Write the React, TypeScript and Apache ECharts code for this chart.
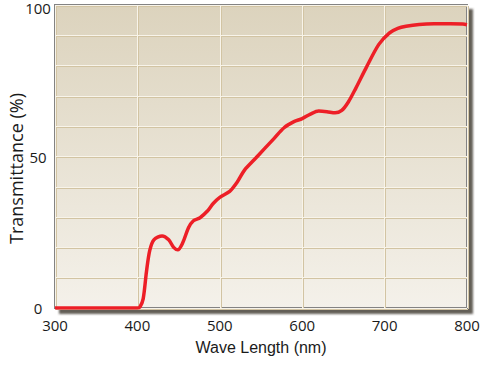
import React, { useEffect, useRef } from "react";
import * as echarts from "echarts";

const wavelengths = [300, 350, 400, 403, 407, 411, 415, 420, 430, 438, 444, 449, 455, 462, 468, 476, 485, 492, 500, 512, 521, 530, 542, 554, 566, 578, 590, 600, 610, 620, 630, 640, 648, 656, 665, 678, 693, 706, 716, 726, 742, 760, 780, 795, 800];
const transmittance = [0, 0, 0, 0.3, 3, 12, 19, 22.5, 23.8, 22.5, 20, 19.2, 21.5, 26.5, 28.8, 29.8, 32, 34.5, 36.5, 38.5, 41.5, 45.5, 49, 52.5, 56, 59.5, 61.5, 62.5, 64, 65, 64.8, 64.4, 65.2, 68, 72.5, 79.5, 87, 90.8, 92.3, 93, 93.6, 93.8, 93.8, 93.7, 93.5];
const yLabelValues = [0, 50, 100];

export default function App() {
  const ref = useRef<HTMLDivElement>(null);
  useEffect(() => {
    if (!ref.current) return;
    const chart = echarts.init(ref.current, null, { renderer: "svg" });
    const data = wavelengths.map((w, i) => [w, transmittance[i]]);
    const hiddenAxisBase = {
      axisLine: { show: false },
      axisTick: { show: false },
      axisLabel: { show: false },
    };
    chart.setOption({
      animation: false,
      grid: [
        {
          show: true,
          outerBoundsMode: "none",
          containLabel: false,
          left: 55,
          top: 5,
          width: 412,
          height: 303,
          borderColor: "#838383",
          borderWidth: 2,
          shadowColor: "rgba(70,66,58,0.85)",
          shadowOffsetX: 5,
          shadowOffsetY: 5,
          shadowBlur: 2,
          backgroundColor: {
            type: "linear",
            x: 0,
            y: 0,
            x2: 0,
            y2: 1,
            colorStops: [
              { offset: 0, color: "#dcd3bd" },
              { offset: 1, color: "#f4f1ea" },
            ],
          },
        },
        {
          show: false,
          outerBoundsMode: "none",
          containLabel: false,
          left: 56,
          top: 6,
          width: 412,
          height: 303,
        },
      ],
      xAxis: [
        {
          type: "value",
          gridIndex: 0,
          min: 300,
          max: 800,
          interval: 100,
          name: "Wave Length (nm)",
          nameLocation: "middle",
          nameGap: 31,
          nameMoveOverlap: false,
          nameTextStyle: { fontFamily: "Liberation Sans", fontSize: 16, color: "#1a1a1a" },
          axisLine: { show: false },
          axisTick: { show: false },
          axisLabel: { fontFamily: "Open Sans", fontSize: 15, color: "#1a1a1a", margin: 9 },
          splitLine: { show: true, lineStyle: { color: "#f8f4ea", width: 1 } },
          z: 2,
        },
        {
          type: "value",
          gridIndex: 1,
          min: 300,
          max: 800,
          interval: 100,
          ...hiddenAxisBase,
          splitLine: { show: true, lineStyle: { color: "#d2c4a3", width: 1 } },
          z: 1,
        },
      ],
      yAxis: [
        {
          type: "value",
          gridIndex: 0,
          min: 0,
          max: 100,
          interval: 10,
          name: "Transmittance (%)",
          nameLocation: "middle",
          nameGap: 30,
          nameMoveOverlap: false,
          nameTextStyle: { fontFamily: "Open Sans", fontSize: 18, color: "#1a1a1a", padding: [0, 24, 0, 0] },
          axisLine: { show: false },
          axisTick: { show: false },
          axisLabel: {
            fontFamily: "Open Sans",
            fontSize: 15,
            color: "#1a1a1a",
            margin: 17,
            align: "center",
            formatter: (v: number) => {
              if (!yLabelValues.includes(v)) return "";
              return v === 100 ? "{top|" + v + "}" : String(v);
            },
            rich: {
              top: { fontFamily: "Open Sans", fontSize: 15, color: "#1a1a1a", padding: [5, 0, 0, 0] },
            },
          },
          splitLine: { show: true, lineStyle: { color: "#f8f4ea", width: 1 } },
          z: 2,
        },
        {
          type: "value",
          gridIndex: 1,
          min: 0,
          max: 100,
          interval: 10,
          ...hiddenAxisBase,
          splitLine: { show: true, lineStyle: { color: "#d2c4a3", width: 1 } },
          z: 1,
        },
      ],
      series: [
        {
          type: "line",
          xAxisIndex: 0,
          yAxisIndex: 0,
          data,
          smooth: 0.3,
          symbol: "none",
          lineStyle: { color: "#ed1f27", width: 3.5 },
          z: 5,
        },
      ],
    });
    return () => chart.dispose();
  }, []);
  return <div ref={ref} style={{ width: 481, height: 366, position: "absolute", left: 0, top: 0 }} />;
}
